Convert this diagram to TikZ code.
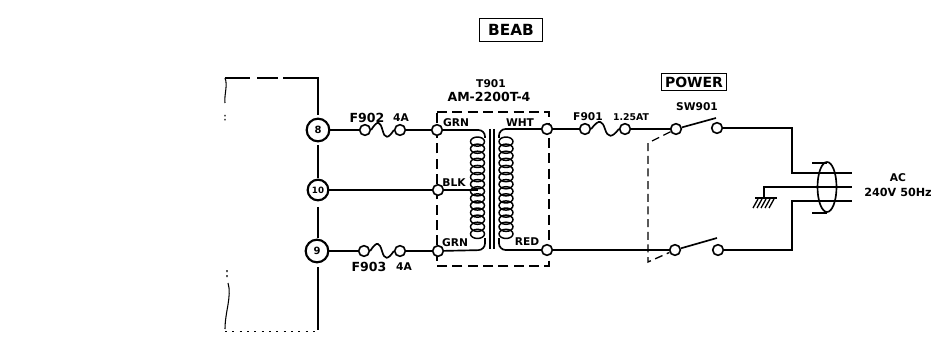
\documentclass[tikz,border=0pt]{standalone}
\usepackage{fontspec}
\setmainfont{DejaVu Sans}
\usetikzlibrary{calc}

\tikzset{every picture/.style={line width=0.75pt}}
\tikzset{
  term/.style={circle,draw,fill=white,line width=1.2pt,minimum size=8pt,inner sep=0pt},
  bigterm/.style={circle,draw,fill=white,line width=1.6pt,minimum size=17pt,inner sep=0pt,font=\bfseries\fontsize{7.5}{8}\selectfont},
  lbl/.style={inner sep=0.75pt,font=\bfseries\fontsize{8}{9}\selectfont},
  biglbl/.style={inner sep=0.75pt,font=\bfseries\fontsize{9.4}{10}\selectfont},
  wire/.style={line width=1.25pt},
  boxdash/.style={dash pattern=on 7.5pt off 4pt,line width=0.85pt},
  fuse/.style={to path={.. controls ($(\tikztostart)!0.3!(\tikztotarget)+(0,-11)$) and ($(\tikztostart)!0.4!(\tikztotarget)+(0,-8)$) .. ($(\tikztostart)!0.5!(\tikztotarget)$) .. controls ($(\tikztostart)!0.6!(\tikztotarget)+(0,9)$) and ($(\tikztostart)!0.75!(\tikztotarget)+(0,9)$) .. (\tikztotarget)}}
}

\begin{document}
\begin{tikzpicture}[x=0.75pt,y=0.75pt,yscale=-1,xscale=1]
\useasboundingbox (0,0) rectangle (934,338);

%Cabinet outline
\draw [line width=1.5pt] (225,78) -- (250,78) (257,78) -- (278,78) (283,78) -- (318,78) -- (318,115);
\draw [line width=1.5pt] (318,145) -- (318,178) (318,207) -- (318,238) (318,267) -- (318,330);
\draw [line width=0.8pt] (225,78) .. controls (228,85) and (224,95) .. (225,103) (225,115) -- (225,116.5) (225,119) -- (225,120.5);
\draw [line width=0.8pt] (227,270) -- (227,272) (227,275) -- (227,277) (228,283) .. controls (232,296) and (225,312) .. (225,329);
\draw [line width=0.5pt,dash pattern=on 1.5pt off 4pt] (225,331) -- (318,331);

%Transformer box
\draw [boxdash] (437,112) -- (549,112) -- (549,266) -- (437,266) -- cycle;

% Terminals
\node (t8) [bigterm] at (318,130) {8};
\node (t10) [bigterm,minimum size=15.5pt,font=\bfseries\fontsize{6.5}{7}\selectfont] at (318,190) {10};
\node (t9) [bigterm] at (317,251) {9};

\node (f2a) [term] at (365,130) {};
\node (f2b) [term] at (400,130) {};
\node (f3a) [term] at (364,251) {};
\node (f3b) [term] at (400,251) {};
\node (ga) [term] at (437,130) {};
\node (bk) [term] at (438,190) {};
\node (gb) [term] at (438,251) {};
\node (wt) [term] at (547,129) {};
\node (rd) [term] at (547,250) {};
\node (f1a) [term] at (585,129) {};
\node (f1b) [term] at (625,129) {};
\node (s1a) [term] at (676,129) {};
\node (s1b) [term] at (717,128) {};
\node (s2a) [term] at (675,250) {};
\node (s2b) [term] at (718,250) {};
\coordinate (s1t) at (716,118);
\coordinate (s2t) at (717,238);

%Straight Lines
\draw [wire] (t8) -- (f2a);
\draw [wire] (f2a.east) to[fuse] (f2b.west);
\draw [wire] (f2b) -- (ga);
\draw [wire] (t10) -- (bk);
\draw [wire] (t9) -- (f3a);
\draw [wire] (f3a.east) to[fuse] (f3b.west);
\draw [wire] (f3b) -- (gb);
\draw [wire] (wt) -- (f1a);
\draw [wire] (f1a.east) to[fuse] (f1b.west);
\draw [wire] (f1b) -- (s1a);
\draw [wire] (rd) -- (s2a);
\draw [wire] (s1a) -- (s1t);
\draw [wire] (s2a) -- (s2t);

%Transformer
\draw [wire,rounded corners=5pt] (ga) -- (485,130) -- (485,138);
\draw [wire,rounded corners=5pt] (gb) -- (485,250) -- (485,238);
\draw [wire] (bk) -- (478,190);
\foreach \y in {1,...,14} {
  \draw [line width=1.1pt] (477.5,{134.5+7.1*\y}) ellipse (7 and 4.6);
  \draw [line width=1.1pt] (506,{134.5+7.1*\y}) ellipse (7 and 4.6);
}
\draw [wire,rounded corners=5pt] (wt) -- (499,129) -- (499,138);
\draw [wire,rounded corners=5pt] (rd) -- (499,250) -- (499,238);
\draw [line width=1.2pt] (490,129) -- (490,249) (494,129) -- (494,249);

%AC wiring
\coordinate (ac1) at (852,173);
\coordinate (ac2) at (852,187);
\coordinate (ac3) at (852,201);
\coordinate (gnd) at (764,198);
\draw [wire] (s1b) -- (792,128) -- (792,173) -- (ac1);
\draw [wire] (s2b) -- (792,250) -- (792,201) -- (ac3);
\draw [wire] (gnd) -- (764,187) -- (ac2);
\draw [wire] (827,187) ellipse (9.5 and 25);
\draw [wire] (812,163) -- (827,163) (812,213) -- (827,213);
\draw [wire] (755,198) -- (777,198);
\foreach \x in {758,762,766,770,774} {
  \draw [line width=1pt] (\x,199) -- (\x-5,208);
}

%Ganged switch link
\draw [dash pattern=on 6pt off 3.5pt,line width=1pt] (s1a) -- (648,143) -- (648,262) -- (s2a);

% Text Node
\node (beab) [draw,line width=1.2pt,inner xsep=6.5pt,inner ysep=4.5pt,font=\bfseries\fontsize{11.5}{12}\selectfont] at (511,30) {BEAB};
\node (pwr) [draw,line width=1.1pt,inner sep=2.5pt,font=\bfseries\fontsize{10.5}{11}\selectfont] at (694,82) {POWER};
\node (sw) [lbl] at (697,107) {SW901};
\node (tn) [lbl] at (491,84) {T901};
\node (tm) [biglbl] at (489,97) {AM-2200T-4};
\node (f902) [biglbl] at (367,118) {F902};
\node (a902) [lbl] at (401,118) {4A};
\node (f903) [biglbl] at (369,267) {F903};
\node (a903) [lbl] at (404,267) {4A};
\node (f901) [lbl] at (588,117) {F901};
\node (a901) [lbl,font=\bfseries\fontsize{7}{8}\selectfont] at (631,117) {1.25AT};
\node (g1) [lbl] at (456,123) {GRN};
\node (w1) [lbl] at (520,123) {WHT};
\node (b1) [lbl] at (454,183) {BLK};
\node (g2) [lbl] at (455,243) {GRN};
\node (r1) [lbl] at (527,242) {RED};
\node (ac) [lbl] at (898,178) {AC};
\node (v) [lbl,font=\bfseries\fontsize{8.4}{9}\selectfont] at (898,192) {240V 50Hz};

\end{tikzpicture}
\end{document}
